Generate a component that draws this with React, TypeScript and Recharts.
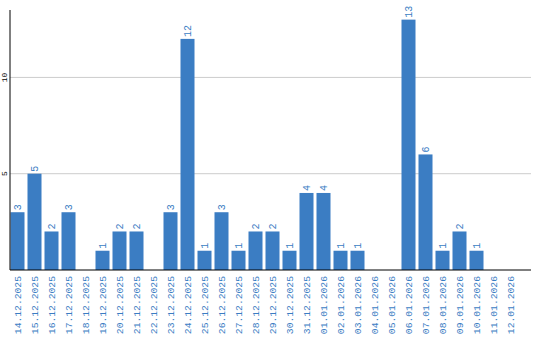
import React from "react";
import { BarChart, Bar, XAxis, YAxis, CartesianGrid, LabelList } from "recharts";

const dates = [
  "14.12.2025", "15.12.2025", "16.12.2025", "17.12.2025", "18.12.2025",
  "19.12.2025", "20.12.2025", "21.12.2025", "22.12.2025", "23.12.2025",
  "24.12.2025", "25.12.2025", "26.12.2025", "27.12.2025", "28.12.2025",
  "29.12.2025", "30.12.2025", "31.12.2025", "01.01.2026", "02.01.2026",
  "03.01.2026", "04.01.2026", "05.01.2026", "06.01.2026", "07.01.2026",
  "08.01.2026", "09.01.2026", "10.01.2026", "11.01.2026", "12.01.2026",
];
const counts = [
  3, 5, 2, 3, 0, 1, 2, 2, 0, 3, 12, 1, 3, 1, 2, 2, 1, 4, 4, 1, 1, 0, 0, 13, 6,
  1, 2, 1, 0, 0,
];
const yTicks = [5, 10];

const data = dates.map((d, i) => ({ date: d, count: counts[i] }));

const BLUE = "#3b7dc3";
const FONT = "'Liberation Mono', 'DejaVu Sans Mono', monospace";
const SHIFT = -1.5; // bars sit at the left of each slot

const BarShape = (props: any) => {
  const { x, y, width, height } = props;
  if (!height || height <= 0) return null;
  return <rect x={x + SHIFT} y={y} width={width} height={height} fill={BLUE} />;
};

const ValueLabel = (props: any) => {
  const { x, y, width, value } = props;
  if (!value) return null;
  const tx = x + width / 2 + SHIFT + 3.5;
  const ty = y - 2;
  return (
    <text
      x={tx}
      y={ty}
      transform={`rotate(-90, ${tx}, ${ty})`}
      textAnchor="start"
      fill={BLUE}
      fontSize={10}
      fontFamily={FONT}
    >
      {value}
    </text>
  );
};

const DateTick = (props: any) => {
  const { x, y, payload } = props;
  const tx = x + SHIFT + 3.5;
  const ty = y + 6;
  return (
    <text
      x={tx}
      y={ty}
      transform={`rotate(-90, ${tx}, ${ty})`}
      textAnchor="end"
      fill={BLUE}
      fontSize={9.7}
      fontFamily={FONT}
    >
      {payload.value}
    </text>
  );
};

const CountTick = (props: any) => {
  const { y, payload } = props;
  const tx = 7.5;
  return (
    <text
      x={tx}
      y={y}
      transform={`rotate(-90, ${tx}, ${y})`}
      textAnchor="middle"
      fill="#000"
      fontSize={8}
      fontFamily={FONT}
    >
      {payload.value}
    </text>
  );
};

export default function App() {
  return (
    <div style={{ position: "fixed", left: 0, top: 0, width: 540, height: 340, background: "#fff" }}>
      <BarChart
        width={540}
        height={340}
        data={data}
        margin={{ top: 10, right: 9, left: 0, bottom: 0 }}
        barSize={14}
      >
        <CartesianGrid vertical={false} horizontal={true} stroke="#cccccc" horizontalValues={yTicks} />
        <XAxis
          dataKey="date"
          interval={0}
          height={70}
          tickLine={false}
          tickSize={0}
          tickMargin={0}
          padding={{ left: 0, right: 11 }}
          axisLine={{ stroke: "#000" }}
          tick={<DateTick />}
        />
        <YAxis
          width={10}
          domain={[0, 13.5]}
          ticks={yTicks}
          tickLine={false}
          axisLine={{ stroke: "#000" }}
          tick={<CountTick />}
        />
        <Bar dataKey="count" fill={BLUE} shape={<BarShape />} isAnimationActive={false}>
          <LabelList dataKey="count" content={<ValueLabel />} />
        </Bar>
      </BarChart>
    </div>
  );
}
